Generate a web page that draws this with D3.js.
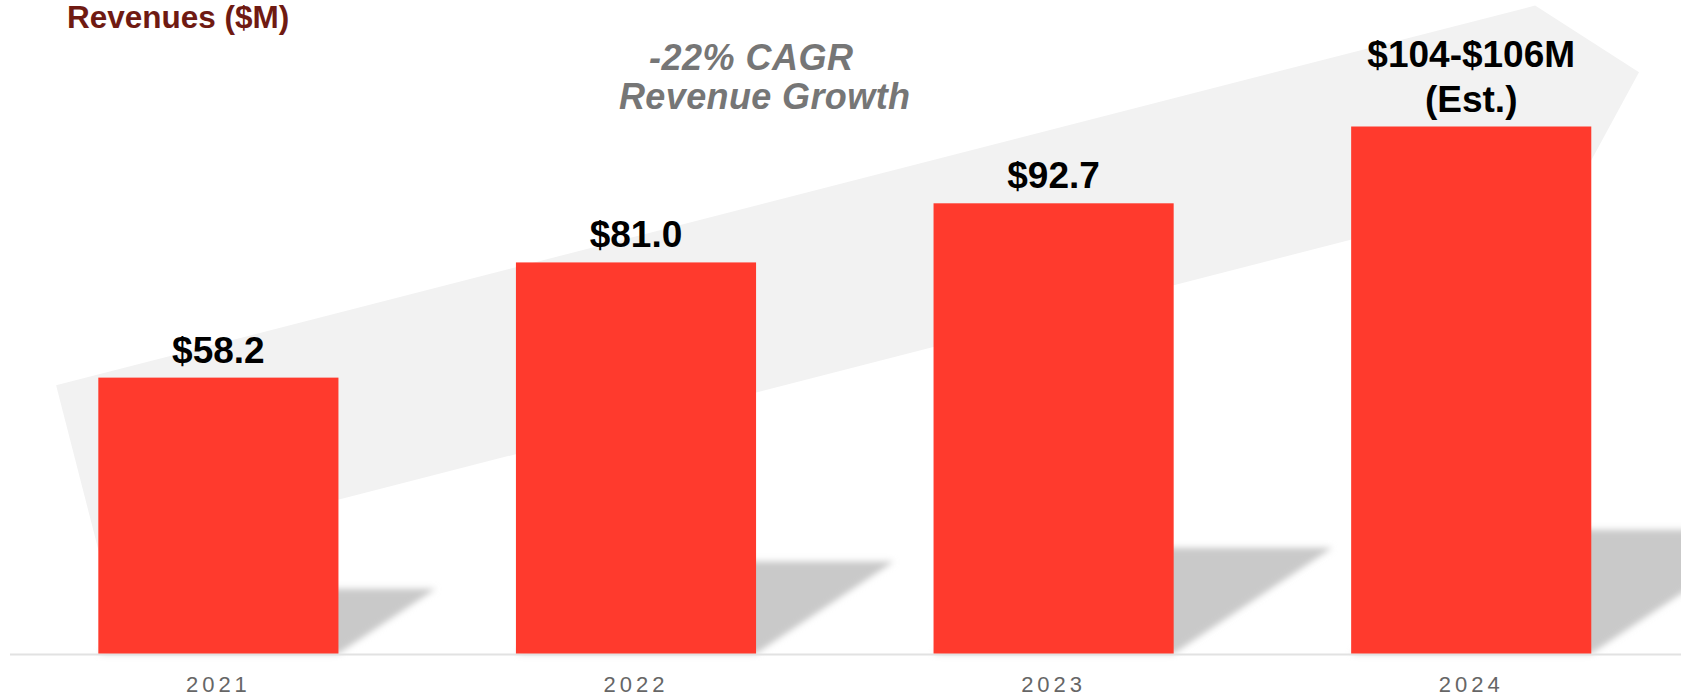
<!doctype html>
<html lang="en">

<head>
  <meta charset="utf-8">
  <title>Revenues ($M)</title>
  <style>
    body {
      margin: 0;
      background: #fff;
    }

    #chart svg {
      display: block;
      font-family: "Liberation Sans", Arial, sans-serif;
    }

    .title {
      font-size: 31.5px;
      font-weight: bold;
      fill: #6f1a12;
    }

    .cagr {
      font-size: 36px;
      font-weight: bold;
      font-style: italic;
      fill: #767676;
    }

    .bar {
      fill: #ff3a2d;
    }

    .value {
      font-size: 37px;
      font-weight: bold;
      fill: #000;
      text-anchor: middle;
    }

    .year {
      font-size: 22px;
      letter-spacing: 4px;
      fill: #666;
      text-anchor: middle;
    }
  </style>
</head>

<body>
  <div id="chart"></div>

  <script src="https://d3js.org/d3.v7.min.js"></script>
  <script>
    // data
    const years = ['2021', '2022', '2023', '2024'];
    // 2024 is an estimate, drawn a bit above the $104-$106M range
    const revenues = [58.2, 81.0, 92.7, 107.9];
    const valueLabels = [['$58.2'], ['$81.0'], ['$92.7'], ['$104-$106M', '(Est.)']];
    const cagrLines = ['-22% CAGR', 'Revenue Growth'];

    const width = 1681;
    const height = 698;
    const baseline = 653.5;

    const svg = d3.select('#chart')
      .append('svg')
      .attr('width', width)
      .attr('height', height);

    // blur for the floor shadows
    svg.append('defs')
      .append('filter')
      .attr('id', 'soft')
      .attr('x', '-20%').attr('y', '-20%')
      .attr('width', '140%').attr('height', '140%')
      .append('feGaussianBlur')
      .attr('stdDeviation', 3);

    // scales
    const x = d3.scaleBand()
      .domain(years)
      .range([14.8, 1674.8])
      .paddingInner(0.425)
      .paddingOuter(0.2);

    // the value axis does not start at zero in the original
    const y = d3.scaleLinear()
      .domain([3.6, 108])
      .range([baseline, 126]);

    const data = years.map((year, i) => ({
      year: year,
      value: revenues[i],
      label: valueLabels[i]
    }));

    // big grey growth arrow behind the bars
    const arrowLen = 1611, halfW = 90.5, headLen = 84;
    svg.append('path')
      .attr('d', d3.line()([
        [-arrowLen, -halfW], [-headLen, -halfW], [0, 0],
        [-headLen, halfW], [-arrowLen, halfW]
      ]) + 'Z')
      .attr('transform', 'translate(1639,72.3) rotate(-14.4)')
      .attr('fill', '#f2f2f2');

    // shadows cast to the right of each bar
    svg.append('g')
      .attr('filter', 'url(#soft)')
      .selectAll('path')
      .data(data)
      .join('path')
      .attr('d', d => {
        const x0 = x(d.year);
        const x1 = x0 + x.bandwidth();
        const sh = 0.235 * (baseline - y(d.value));
        const dx = 1.5 * sh;
        return d3.line()([[x0, baseline], [x1, baseline], [x1 + dx, baseline - sh], [x0 + dx, baseline - sh]]) + 'Z';
      })
      .attr('fill', '#c9c9c9');

    // axis line
    svg.append('line')
      .attr('x1', 10)
      .attr('x2', width)
      .attr('y1', baseline + 1)
      .attr('y2', baseline + 1)
      .attr('stroke', '#e2e2e2')
      .attr('stroke-width', 2);

    // bars
    svg.append('g')
      .selectAll('rect')
      .data(data)
      .join('rect')
      .attr('class', 'bar')
      .attr('x', d => x(d.year))
      .attr('y', d => y(d.value))
      .attr('width', x.bandwidth())
      .attr('height', d => baseline - y(d.value));

    // value labels above the bars (last one has two lines)
    const labels = svg.append('g')
      .selectAll('text')
      .data(data)
      .join('text')
      .attr('class', 'value')
      .attr('x', d => x(d.year) + x.bandwidth() / 2)
      .attr('y', d => y(d.value) - 15 - (d.label.length - 1) * 45);

    labels.selectAll('tspan')
      .data(d => d.label)
      .join('tspan')
      .attr('x', function () {
        return d3.select(this.parentNode).attr('x');
      })
      .attr('dy', (d, i) => i === 0 ? 0 : 45)
      .text(d => d);

    // year labels
    svg.append('g')
      .selectAll('text')
      .data(data)
      .join('text')
      .attr('class', 'year')
      .attr('x', d => x(d.year) + x.bandwidth() / 2)
      .attr('y', 692)
      .text(d => d.year);

    // title
    svg.append('text')
      .attr('class', 'title')
      .attr('x', 67)
      .attr('y', 28.3)
      .text('Revenues ($M)');

    // growth note
    svg.append('text')
      .attr('class', 'cagr')
      .attr('x', 649)
      .attr('y', 70)
      .attr('textLength', 204)
      .attr('lengthAdjust', 'spacing')
      .text(cagrLines[0]);

    svg.append('text')
      .attr('class', 'cagr')
      .attr('x', 619)
      .attr('y', 109)
      .attr('textLength', 291)
      .attr('lengthAdjust', 'spacing')
      .text(cagrLines[1]);
  </script>
</body>

</html>
